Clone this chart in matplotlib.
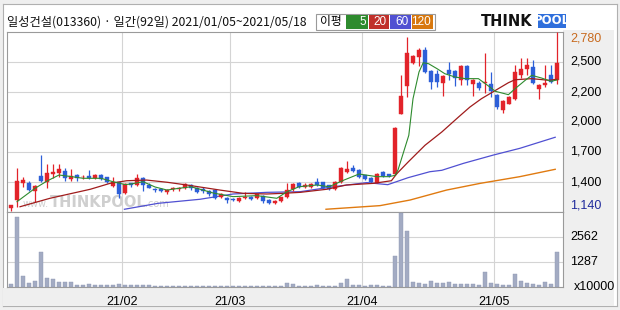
import matplotlib
matplotlib.use("Agg")
import matplotlib.pyplot as plt
import numpy as np

plt.rcParams['font.family'] = ['Noto Sans CJK KR', 'DejaVu Sans']

# ---------------- data ----------------
title = "일성건설(013360) · 일간(92일) 2021/01/05~2021/05/18"
month_labels = ["21/02", "21/03", "21/04", "21/05"]
month_start_idx = [19, 37, 59, 81]

opens = [1175, 1250, 1400, 1408, 1331, 1468, 1411, 1485, 1493, 1514,
         1441, 1477, 1455, 1468, 1447, 1477, 1456, 1380, 1410, 1310,
         1400, 1386, 1453, 1390, 1350, 1345, 1322, 1345, 1345, 1356,
         1390, 1362, 1345, 1330, 1340, 1278, 1270, 1262, 1242, 1265,
         1275, 1271, 1290, 1250, 1222, 1240, 1280, 1345, 1400, 1370,
         1372, 1410, 1410, 1385, 1350, 1415, 1505, 1538, 1523, 1475,
         1452, 1405, 1505, 1482, 1485, 2035, 2285, 2500, 2555, 2620,
         2425, 2397, 2318, 2430, 2422, 2340, 2468, 2310, 2318, 2315,
         2310, 2205, 2067, 2127, 2172, 2385, 2446, 2460, 2258, 2300,
         2385, 2340]
highs = [1205, 1540, 1455, 1420, 1390, 1660, 1575, 1580, 1575, 1545,
         1535, 1490, 1480, 1523, 1485, 1485, 1460, 1460, 1415, 1400,
         1405, 1485, 1460, 1400, 1360, 1355, 1350, 1370, 1372, 1400,
         1395, 1370, 1370, 1340, 1345, 1310, 1280, 1270, 1280, 1325,
         1285, 1305, 1295, 1258, 1245, 1280, 1405, 1405, 1410, 1400,
         1402, 1447, 1415, 1390, 1420, 1550, 1605, 1565, 1530, 1480,
         1460, 1492, 1510, 1490, 1910, 2390, 2735, 2575, 2630, 2645,
         2435, 2430, 2390, 2507, 2430, 2480, 2480, 2350, 2330, 2585,
         2415, 2215, 2160, 2195, 2477, 2543, 2543, 2522, 2310, 2477,
         2477, 2780]
lows = [1145, 1190, 1370, 1335, 1235, 1415, 1362, 1450, 1455, 1425,
        1425, 1425, 1440, 1440, 1440, 1432, 1405, 1370, 1265, 1300,
        1370, 1380, 1335, 1355, 1320, 1320, 1300, 1330, 1335, 1350,
        1345, 1310, 1315, 1290, 1262, 1270, 1220, 1240, 1235, 1255,
        1250, 1262, 1225, 1210, 1215, 1235, 1270, 1335, 1355, 1360,
        1362, 1380, 1355, 1340, 1345, 1405, 1495, 1505, 1450, 1435,
        1405, 1400, 1462, 1460, 1475, 2030, 2190, 2490, 2470, 2405,
        2263, 2275, 2195, 2340, 2288, 2295, 2300, 2200, 2255, 2220,
        2190, 2075, 2045, 2120, 2158, 2361, 2390, 2310, 2172, 2280,
        2315, 2309]
closes = [1200, 1420, 1435, 1340, 1377, 1423, 1493, 1500, 1532, 1447,
          1471, 1447, 1462, 1447, 1477, 1440, 1416, 1415, 1300, 1395,
          1385, 1453, 1386, 1360, 1337, 1335, 1343, 1360, 1358, 1392,
          1358, 1325, 1330, 1300, 1270, 1302, 1245, 1252, 1270, 1278,
          1262, 1300, 1240, 1220, 1238, 1274, 1340, 1398, 1365, 1390,
          1395, 1388, 1362, 1348, 1416, 1545, 1530, 1518, 1458, 1442,
          1412, 1488, 1470, 1468, 1905, 2195, 2590, 2560, 2620, 2415,
          2325, 2325, 2380, 2400, 2362, 2470, 2340, 2340, 2270, 2322,
          2240, 2097, 2148, 2188, 2416, 2446, 2478, 2318, 2300, 2318,
          2325, 2500]
volumes = [156, 3598, 571, 225, 311, 1782, 484, 398, 277, 260,
           265, 104, 104, 156, 104, 104, 104, 104, 156, 90,
           90, 90, 104, 104, 60, 55, 50, 50, 45, 55,
           50, 50, 45, 45, 50, 50, 45, 45, 40, 50,
           45, 45, 50, 45, 50, 60, 225, 156, 70, 60,
           60, 104, 60, 60, 70, 225, 415, 104, 104, 60,
           104, 104, 60, 60, 1574, 3789, 2871, 277, 225, 156,
           311, 225, 225, 277, 173, 173, 173, 173, 104, 744,
           225, 156, 104, 104, 675, 311, 225, 156, 104, 277,
           173, 1782]

# moving averages (day index, price)
ma5_x = [1, 4, 6, 8, 10, 12, 15, 17, 19, 20, 22, 24, 26, 28, 30, 32, 33.7, 37, 41, 44.3,
         46, 48, 51, 53, 55.5, 58, 61, 63, 64, 64.5, 66.3, 67, 68, 68.7, 69.6, 71, 72.3,
         74, 75.7, 77.9, 79.8, 80.7, 82.9, 84, 85.7, 86.8, 88.4, 90, 91]
ma5_v = [1234, 1356, 1422, 1477, 1463, 1447, 1447, 1416, 1390, 1395, 1416, 1368, 1340,
         1356, 1370, 1340, 1313, 1280, 1289, 1265, 1325, 1370, 1386, 1370, 1431, 1486,
         1462, 1462, 1474, 1523, 1839, 2172, 2416, 2500, 2491, 2446, 2400, 2370, 2355,
         2355, 2279, 2240, 2209, 2263, 2340, 2385, 2361, 2331, 2343]
ma20_x = [1.5, 6.5, 13.2, 16.5, 19.3, 22.6, 26, 29.3, 32.9, 34.8, 38.7, 42.6, 45.3,
          48.2, 52.6, 55.9, 60.4, 63.4, 64.3, 66.2, 69, 71.8, 74.6, 76.5, 78.4, 81.2,
          82.9, 84, 86.8, 89.6, 91]
ma20_v = [1188, 1265, 1347, 1401, 1425, 1431, 1411, 1386, 1356, 1340, 1310, 1304, 1310,
          1319, 1347, 1386, 1401, 1425, 1489, 1596, 1748, 1869, 2006, 2097, 2172, 2263,
          2318, 2345, 2355, 2340, 2349]
ma60_x = [18.9, 24.5, 31.5, 37, 42.6, 48.2, 53.7, 59.3, 62.8, 66.2, 69.8, 71.8, 75.4,
          80.4, 84.8, 90.7]
ma60_v = [1165, 1219, 1256, 1304, 1319, 1325, 1370, 1408, 1389, 1453, 1507, 1520, 1583,
          1659, 1720, 1821]
ma120_x = [52.5, 61.5, 66.5, 72.6, 78.2, 84.8, 90.7]
ma120_v = [1165, 1198, 1249, 1340, 1401, 1462, 1529]

price_ticks = [1140, 1413, 1687, 1960, 2233, 2507, 2780]
price_labels = ["1,140", "1,400", "1,700", "2,000", "2,200", "2,500", "2,780"]
vol_ticks = [1281, 2562]
vol_labels = ["1287", "2562"]

# ---------------- style ----------------
UP = "#e2232a"
DOWN = "#2d5fd8"
GRID = "#d4d4d4"
FRAME = "#9a9a9a"
C5, C20, C60, C120 = "#2e8b2e", "#a01c1c", "#5050d2", "#e07a10"

W, H = 620, 310
fig = plt.figure(figsize=(W / 100, H / 100), dpi=100)
fig.patch.set_facecolor("#efefef")

def fx(px):
    return px / W

def fy(py):
    return 1 - py / H

# white header / chart background
bg = fig.add_axes([fx(3), fy(306), fx(614), (306 - 4) / H])
bg.set_facecolor("white")
bg.set_xticks([]); bg.set_yticks([])
for s in bg.spines.values():
    s.set_color("#b0b0b0")
bg.set_zorder(-5)
# gray strips (right labels area and bottom)
fig.patches.append(plt.Rectangle((fx(563), fy(306)), fx(614 - 563 + 3) - fx(3), (306 - 30) / H,
                                 transform=fig.transFigure, facecolor="#efefef",
                                 edgecolor="none", zorder=-4))
fig.patches.append(plt.Rectangle((fx(3), fy(306)), fx(563 - 3), (306 - 288) / H,
                                 transform=fig.transFigure, facecolor="#efefef",
                                 edgecolor="none", zorder=-4))

xl = (-0.67, 92.0)
x = np.arange(len(closes))

ax = fig.add_axes([fx(7), fy(212), fx(563 - 7), 180 / H])
axv = fig.add_axes([fx(7), fy(287), fx(563 - 7), 75 / H])

for a in (ax, axv):
    a.set_facecolor("white")
    a.set_xlim(*xl)
    for s in a.spines.values():
        s.set_color(FRAME)
        s.set_linewidth(0.8)
    a.set_xticks([])
    a.set_yticks([])
    for m in month_start_idx:
        a.axvline(m - 0.5, color=GRID, lw=0.8, zorder=0)

ax.set_ylim(1140, 2780)
for t in price_ticks[1:-1]:
    ax.axhline(t, color=GRID, lw=0.8, zorder=0)

axv.set_ylim(0, 3843)
for t in vol_ticks:
    axv.axhline(t, color=GRID, lw=0.8, zorder=0)

# candles
o = np.array(opens); c = np.array(closes); h = np.array(highs); l = np.array(lows)
up = c >= o
cols = np.where(up, UP, DOWN)
body_low = np.minimum(o, c)
body_h = np.maximum(np.abs(c - o), 6)
ax.vlines(x, l, h, colors=cols, lw=0.9, zorder=3)
ax.bar(x, body_h, bottom=body_low, width=0.7, color=cols, edgecolor=cols, lw=0.3, zorder=4)

# moving averages
ax.plot(ma120_x, ma120_v, color=C120, lw=1.0, zorder=2)
ax.plot(ma60_x, ma60_v, color=C60, lw=0.9, zorder=2)
ax.plot(ma20_x, ma20_v, color=C20, lw=0.9, zorder=5)
ax.plot(ma5_x, ma5_v, color=C5, lw=0.8, zorder=5)

# watermark (www.THINKPOOL.com)
wm = dict(color="#cfcfcf", family="DejaVu Sans", zorder=1, va="bottom")
ax.text(2.0, 1165, "www.", fontsize=7, **wm)
ax.text(6.4, 1158, "THINKPOOL", fontsize=10.5, fontweight="bold", **wm)
ax.text(22.4, 1165, ".com", fontsize=7, **wm)

# volume bars
axv.bar(x, volumes, width=0.75, color="#a3abc3", edgecolor="#8f98b3", lw=0.3, zorder=3)

# right side labels
lab_font = dict(fontsize=9, family=["Liberation Sans", "DejaVu Sans"])
for t, s in zip(price_ticks, price_labels):
    col = "black"
    va = "center"
    if s == "2,780":
        col = "#c86a1e"; va = "top"
    if s == "1,140":
        col = "#1f2a9c"; va = "bottom"
    yy = t
    if va == "top":
        yy = t - 5
    ax.text(1.013, yy, s, transform=ax.get_yaxis_transform(), ha="left", va=va,
            color=col, **lab_font)
for t, s in zip(vol_ticks, vol_labels):
    axv.text(1.013, t, s, transform=axv.get_yaxis_transform(), ha="left", va="center",
             color="black", **lab_font)
axv.text(1.02, 0, "x10000", transform=axv.get_yaxis_transform(), ha="left", va="center",
         color="black", **lab_font)

# month labels
for m, s in zip(month_start_idx, month_labels):
    axv.text(m - 0.5, -0.2, s, transform=axv.get_xaxis_transform(), ha="center",
             va="center", fontsize=9, family=["Liberation Sans", "DejaVu Sans"])

# header
fig.text(fx(7), fy(22), title, fontsize=8.8, va="center", ha="left", color="#111111")

# legend box
lx0, lx1, ly0, ly1 = 316, 435, 14, 30
fig.patches.append(plt.Rectangle((fx(lx0), fy(ly1)), fx(lx1 - lx0), (ly1 - ly0) / H,
                                 transform=fig.transFigure, facecolor="white",
                                 edgecolor="#9a9a9a", lw=0.8))
fig.text(fx(331), fy(22), "이평", fontsize=8.5, ha="center", va="center")
boxes = [("5", C5, 346, 368), ("20", "#c0302a", 369, 389), ("60", C60, 390, 411),
         ("120", "#d8780e", 412, 433)]
for s, col, a0, a1 in boxes:
    fig.patches.append(plt.Rectangle((fx(a0), fy(29)), fx(a1 - a0), 14 / H,
                                     transform=fig.transFigure, facecolor=col,
                                     edgecolor="none"))
    fig.text(fx(a1 - 2), fy(22), s, fontsize=8.5, ha="right", va="center", color="white",
             family=["Liberation Sans", "DejaVu Sans"])

# logo
fig.text(fx(481), fy(21), "THINK", fontsize=10.5, fontweight="heavy", ha="left",
         va="center", color="#111111", family="DejaVu Sans")
fig.patches.append(plt.Rectangle((fx(538), fy(28)), fx(28), 14 / H,
                                 transform=fig.transFigure, facecolor="#2f6fdc",
                                 edgecolor="none"))
fig.text(fx(552), fy(21), "POOL", fontsize=8.5, fontweight="heavy", ha="center",
         va="center", color="white", family="DejaVu Sans")

fig.savefig("out.png", dpi=100, facecolor=fig.get_facecolor())
